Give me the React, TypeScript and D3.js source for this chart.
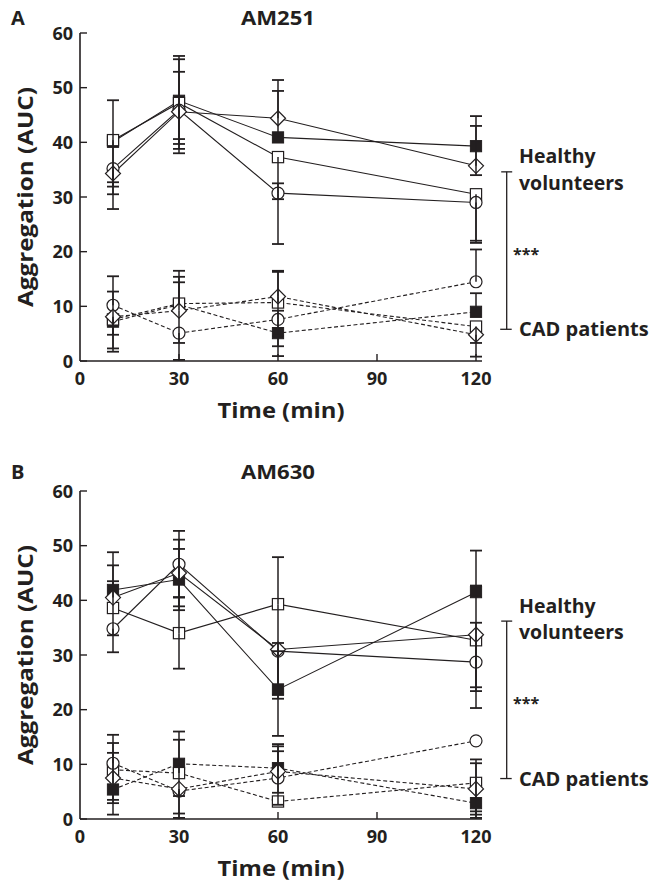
import React from "react";
import * as d3 from "d3";

const TIMES = [10, 30, 60, 120];
const X_TICKS = [0, 30, 60, 90, 120];
const Y_TICKS = [0, 10, 20, 30, 40, 50, 60];
const SHAPES = ["filledSquare", "openSquare", "openCircle", "openDiamond"];

// Panel A (AM251) — healthy volunteers (solid lines)
const A_H_FSQ = [40.1, 47.6, 40.9, 39.3];
const A_H_OSQ = [40.4, 47.2, 37.3, 30.5];
const A_H_CIR = [35.2, 45.9, 30.7, 29.0];
const A_H_DIA = [34.3, 45.6, 44.4, 35.7];
// error bars [up, down]
const A_H_FSQ_ERR = [[7.6, 7.4], [8.2, 7.9], [8.5, 0], [5.5, 5.3]];
const A_H_OSQ_ERR = [[0, 8.5], [8.0, 6.6], [0, 7.7], [0, 8.5]];
const A_H_CIR_ERR = [[0, 7.4], [7.0, 7.1], [1.8, 9.3], [0, 7.4]];
const A_H_DIA_ERR = [[0, 3.8], [0, 7.6], [7.0, 0], [7.3, 0]];

// Panel A — CAD patients (dashed lines)
const A_C_FSQ = [7.2, 10.3, 5.1, 9.0];
const A_C_OSQ = [7.6, 10.5, 10.7, 6.3];
const A_C_CIR = [10.2, 5.1, 7.6, 14.5];
const A_C_DIA = [8.1, 9.2, 11.8, 4.8];
const A_C_FSQ_ERR = [[5.5, 5.5], [6.2, 0], [0, 4.2], [3.4, 0]];
const A_C_OSQ_ERR = [[0, 5.3], [4.9, 0], [5.6, 0], [0, 3.0]];
const A_C_CIR_ERR = [[5.3, 0], [0, 4.9], [1.6, 4.9], [5.9, 0]];
const A_C_DIA_ERR = [[0, 3.3], [5.2, 5.9], [4.7, 7.2], [0, 4.0]];

// Panel B (AM630) — healthy volunteers
const B_H_FSQ = [41.9, 43.8, 23.7, 41.5];
const B_H_OSQ = [38.6, 34.0, 39.3, 32.7];
const B_H_CIR = [34.8, 46.6, 30.7, 28.7];
const B_H_DIA = [40.5, 45.0, 31.0, 33.7];
const B_H_FSQ_ERR = [[6.9, 0], [5.6, 5.6], [8.5, 8.5], [7.6, 0]];
const B_H_OSQ_ERR = [[4.9, 5.0], [6.5, 6.5], [8.6, 8.6], [0, 8.6]];
const B_H_CIR_ERR = [[0, 4.3], [6.1, 6.0], [0, 8.0], [7.2, 8.4]];
const B_H_DIA_ERR = [[5.9, 0], [6.1, 6.1], [0, 9.0], [9.0, 10.3]];

// Panel B — CAD patients
const B_C_FSQ = [5.4, 10.1, 9.3, 2.9];
const B_C_OSQ = [9.0, 8.4, 3.2, 6.6];
const B_C_CIR = [10.2, 5.1, 7.5, 14.3];
const B_C_DIA = [7.5, 5.5, 8.7, 5.5];
const B_C_FSQ_ERR = [[0, 4.6], [5.9, 5.9], [4.4, 4.5], [0, 2.7]];
const B_C_OSQ_ERR = [[4.9, 5.5], [6.1, 0], [0, 0], [4.3, 5.2]];
const B_C_CIR_ERR = [[5.2, 0], [0, 4.9], [4.9, 4.9], [0, 0]];
const B_C_DIA_ERR = [[4.6, 4.6], [0, 4.5], [4.6, 0], [4.7, 4.7]];

const PANELS = [
  {
    letter: "A", title: "AM251", top: 33, titleY: 25, bracket: [34.6, 5.8],
    healthy: [A_H_FSQ, A_H_OSQ, A_H_CIR, A_H_DIA],
    healthyErr: [A_H_FSQ_ERR, A_H_OSQ_ERR, A_H_CIR_ERR, A_H_DIA_ERR],
    cad: [A_C_FSQ, A_C_OSQ, A_C_CIR, A_C_DIA],
    cadErr: [A_C_FSQ_ERR, A_C_OSQ_ERR, A_C_CIR_ERR, A_C_DIA_ERR],
  },
  {
    letter: "B", title: "AM630", top: 491, titleY: 479, bracket: [36.2, 7.4],
    healthy: [B_H_FSQ, B_H_OSQ, B_H_CIR, B_H_DIA],
    healthyErr: [B_H_FSQ_ERR, B_H_OSQ_ERR, B_H_CIR_ERR, B_H_DIA_ERR],
    cad: [B_C_FSQ, B_C_OSQ, B_C_CIR, B_C_DIA],
    cadErr: [B_C_FSQ_ERR, B_C_OSQ_ERR, B_C_CIR_ERR, B_C_DIA_ERR],
  },
];

const INK = "#231f20";
const FONT = "'Open Sans', 'DejaVu Sans', sans-serif";

function Marker({ shape, cx, cy }: { shape: string; cx: number; cy: number }) {
  const s = 5.6;
  if (shape === "filledSquare")
    return <rect x={cx - s} y={cy - s} width={2 * s} height={2 * s} fill={INK} stroke={INK} strokeWidth={1} />;
  if (shape === "openSquare")
    return <rect x={cx - s} y={cy - s} width={2 * s} height={2 * s} fill="#fff" stroke={INK} strokeWidth={1.2} />;
  if (shape === "openCircle")
    return <circle cx={cx} cy={cy} r={6} fill="#fff" stroke={INK} strokeWidth={1.2} />;
  const d = 7.5;
  return (
    <path d={`M${cx},${cy - d}L${cx + d},${cy}L${cx},${cy + d}L${cx - d},${cy}Z`} fill="#fff" stroke={INK} strokeWidth={1.2} />
  );
}

function Panel({ p }: { p: (typeof PANELS)[number] }) {
  const x = d3.scaleLinear().domain([0, 120]).range([80, 476]);
  const y = d3.scaleLinear().domain([0, 60]).range([p.top + 328, p.top]);
  const y0 = y(0);
  const line = d3
    .line<number>()
    .x((_, i) => x(TIMES[i]))
    .y((v) => y(v));

  const groups = [
    { vals: p.healthy, errs: p.healthyErr, dash: undefined as string | undefined },
    { vals: p.cad, errs: p.cadErr, dash: "4,2.5" },
  ];

  const bx = 506.7;
  const bTop = y(p.bracket[0]);
  const bBot = y(p.bracket[1]);

  return (
    <g>
      <text x={11} y={p.titleY} fontFamily={FONT} fontWeight={700} fontSize={20} fill={INK}>
        {p.letter}
      </text>
      <text x={x(60)} y={p.titleY} textAnchor="middle" fontFamily={FONT} fontWeight={700} fontSize={20} fill={INK} textLength={74} lengthAdjust="spacingAndGlyphs">
        {p.title}
      </text>

      {/* axes */}
      <line x1={80} x2={80} y1={y(60)} y2={y0} stroke={INK} strokeWidth={1.6} />
      <line x1={80} x2={482} y1={y0} y2={y0} stroke={INK} strokeWidth={1.6} />
      {Y_TICKS.map((t) => (
        <g key={"y" + t}>
          <line x1={80} x2={87} y1={y(t)} y2={y(t)} stroke={INK} strokeWidth={1.4} />
          <text x={73} y={y(t) + 6.5} textAnchor="end" fontFamily={FONT} fontWeight={700} fontSize={18} fill={INK}>
            {t}
          </text>
        </g>
      ))}
      {X_TICKS.map((t) => (
        <g key={"x" + t}>
          {t > 0 && <line x1={x(t)} x2={x(t)} y1={y0} y2={y0 - 7} stroke={INK} strokeWidth={1.4} />}
          <text x={x(t)} y={y0 + 24} textAnchor="middle" fontFamily={FONT} fontWeight={700} fontSize={18} fill={INK}>
            {t}
          </text>
        </g>
      ))}
      <text
        transform={`translate(33,${(y(60) + y0) / 2}) rotate(-90)`}
        textAnchor="middle"
        fontFamily={FONT}
        fontWeight={700}
        fontSize={21}
        fill={INK}
        textLength={220}
        lengthAdjust="spacingAndGlyphs"
      >
        Aggregation (AUC)
      </text>
      <text x={281} y={y0 + 57} textAnchor="middle" fontFamily={FONT} fontWeight={700} fontSize={21} fill={INK} textLength={127} lengthAdjust="spacingAndGlyphs">
        Time (min)
      </text>

      {/* lines */}
      {groups.map((g, gi) =>
        g.vals.map((vals, si) => (
          <path key={`l${gi}-${si}`} d={line(vals) || ""} fill="none" stroke={INK} strokeWidth={1.1} strokeDasharray={g.dash} />
        ))
      )}
      {/* markers */}
      {groups.map((g, gi) =>
        g.vals.map((vals, si) =>
          vals.map((v, i) => <Marker key={`m${gi}-${si}-${i}`} shape={SHAPES[si]} cx={x(TIMES[i])} cy={y(v)} />)
        )
      )}
      {/* error bars */}
      {groups.map((g, gi) =>
        g.errs.map((errs, si) =>
          errs.map(([up, dn], i) => {
            const cx = x(TIMES[i]);
            const v = g.vals[si][i];
            const out: any[] = [];
            if (up > 0) {
              out.push(<line key="u" x1={cx} x2={cx} y1={y(v)} y2={y(v + up)} stroke={INK} strokeWidth={1.5} />);
              out.push(<line key="uc" x1={cx - 6} x2={cx + 6} y1={y(v + up)} y2={y(v + up)} stroke={INK} strokeWidth={1.8} />);
            }
            if (dn > 0) {
              out.push(<line key="d" x1={cx} x2={cx} y1={y(v)} y2={y(v - dn)} stroke={INK} strokeWidth={1.5} />);
              out.push(<line key="dc" x1={cx - 6} x2={cx + 6} y1={y(v - dn)} y2={y(v - dn)} stroke={INK} strokeWidth={1.8} />);
            }
            return <g key={`e${gi}-${si}-${i}`}>{out}</g>;
          })
        )
      )}

      {/* significance bracket */}
      <line x1={bx} x2={bx} y1={bTop} y2={bBot} stroke={INK} strokeWidth={1.3} />
      <line x1={bx - 5.5} x2={bx + 5.5} y1={bTop} y2={bTop} stroke={INK} strokeWidth={1.3} />
      <line x1={bx - 6.5} x2={bx + 5} y1={bBot} y2={bBot} stroke={INK} strokeWidth={1.3} />
      <text x={513} y={(bTop + bBot) / 2 + 9} fontFamily={FONT} fontWeight={700} fontSize={16} fill={INK}>
        ***
      </text>
      <text x={519} y={bTop - 8.5} fontFamily={FONT} fontWeight={700} fontSize={19.5} fill={INK}>
        Healthy
      </text>
      <text x={519} y={bTop + 18} fontFamily={FONT} fontWeight={700} fontSize={19.5} fill={INK}>
        volunteers
      </text>
      <text x={519} y={bBot + 7} fontFamily={FONT} fontWeight={700} fontSize={20} fill={INK}>
        CAD patients
      </text>
    </g>
  );
}

export default function App() {
  return (
    <svg width={670} height={884} style={{ position: "absolute", left: 0, top: 0, background: "#fff" }}>
      <rect width={670} height={884} fill="#fff" />
      {PANELS.map((p) => (
        <Panel key={p.letter} p={p} />
      ))}
    </svg>
  );
}
